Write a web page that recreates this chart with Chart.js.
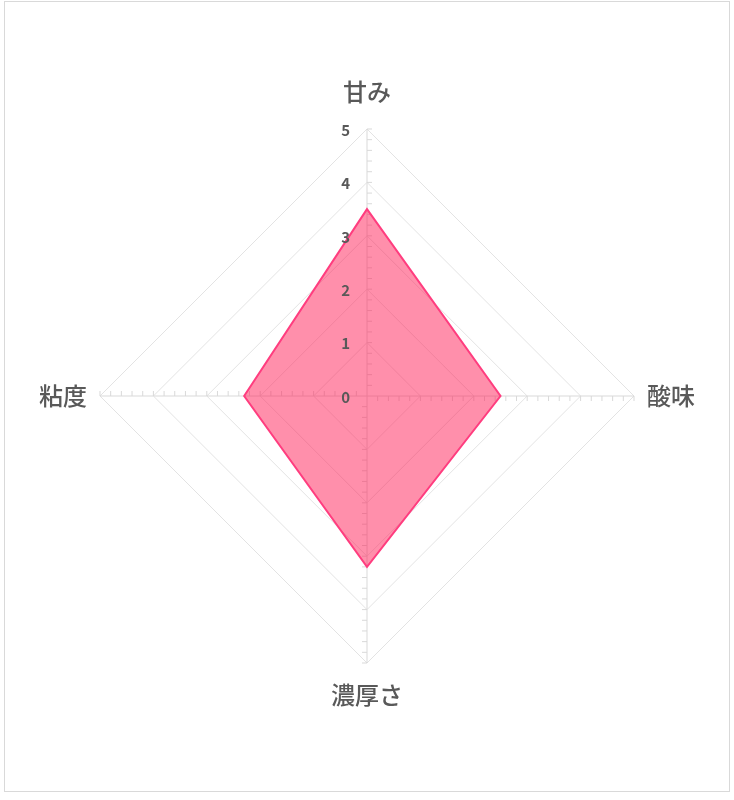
<!DOCTYPE html>
<html lang="ja">
<head>
<meta charset="utf-8">
<title>味のバランス</title>
<script src="https://cdn.jsdelivr.net/npm/chart.js@4.4.1/dist/chart.umd.min.js"></script>
<style>
  html, body { margin: 0; padding: 0; background: #fff; }
  #frame {
    position: absolute; left: 4px; top: 1px;
    width: 726px; height: 791px;
    box-sizing: border-box; border: 1px solid #d9d9d9; background: #fff;
  }
  #chart { display: block; width: 724px; height: 789px; }
</style>
</head>
<body>
<div id="frame"><canvas id="chart" width="724" height="789"></canvas></div>
<script>
// Data (radar, 0-5 scale)
const categories = ['甘み', '酸味', '濃厚さ', '粘度'];
const scores = [3.5, 2.5, 3.2, 2.3];
const tickValues = [0, 1, 2, 3, 4, 5];
const minorStep = 0.2;

const textColor = '#595959';
const jpFont = '"Noto Sans CJK JP", "Noto Sans", sans-serif';

// Minor tick marks along each axis + numeric labels on the top axis
const axisDecor = {
  id: 'axisDecor',
  beforeDatasetsDraw(chart) {
    const scale = chart.scales.r;
    const ctx = chart.ctx;
    ctx.save();
    ctx.strokeStyle = '#d9d9d9';
    ctx.lineWidth = 1;
    for (let i = 0; i < categories.length; i++) {
      const end = scale.getPointPositionForValue(i, scale.max);
      const dx = (end.x - scale.xCenter) / scale.drawingArea;
      const dy = (end.y - scale.yCenter) / scale.drawingArea;
      for (let k = 1; k * minorStep <= scale.max + 1e-9; k++) {
        const p = scale.getPointPositionForValue(i, k * minorStep);
        ctx.beginPath();
        ctx.moveTo(p.x, p.y);
        ctx.lineTo(p.x - dy * 5, p.y + dx * 5);
        ctx.stroke();
      }
    }
    ctx.restore();
  },
  afterDatasetsDraw(chart) {
    const scale = chart.scales.r;
    const ctx = chart.ctx;
    ctx.save();
    ctx.fillStyle = textColor;
    ctx.font = 'bold 15px ' + jpFont;
    ctx.textAlign = 'right';
    ctx.textBaseline = 'middle';
    tickValues.forEach(v => {
      const p = scale.getPointPositionForValue(0, v);
      ctx.fillText(String(v), p.x - 17, p.y + 1);
    });
    ctx.restore();
  }
};

// label gap per axis (top, right, bottom, left)
const labelPadding = [23, 13, 17, 13];

new Chart(document.getElementById('chart'), {
  type: 'radar',
  data: {
    labels: categories,
    datasets: [{
      label: '味',
      data: scores,
      borderColor: '#ff3d7f',
      backgroundColor: 'rgba(255, 31, 87, 0.5)',
      borderWidth: 2,
      pointRadius: 0,
      pointHoverRadius: 0
    }]
  },
  options: {
    responsive: false,
    animation: false,
    layout: { padding: { left: 34, right: 34, top: 63, bottom: 70 } },
    plugins: {
      legend: { display: false },
      tooltip: { enabled: false }
    },
    scales: {
      r: {
        min: 0,
        max: 5,
        ticks: { display: false, stepSize: 1 },
        grid: { color: '#e3e3e3', lineWidth: 1 },
        angleLines: { color: '#d9d9d9', lineWidth: 1 },
        pointLabels: {
          color: textColor,
          font: { family: jpFont, size: 24, weight: '500' },
          padding: ctx => labelPadding[ctx.index]
        }
      }
    }
  },
  plugins: [axisDecor]
});
</script>
</body>
</html>
